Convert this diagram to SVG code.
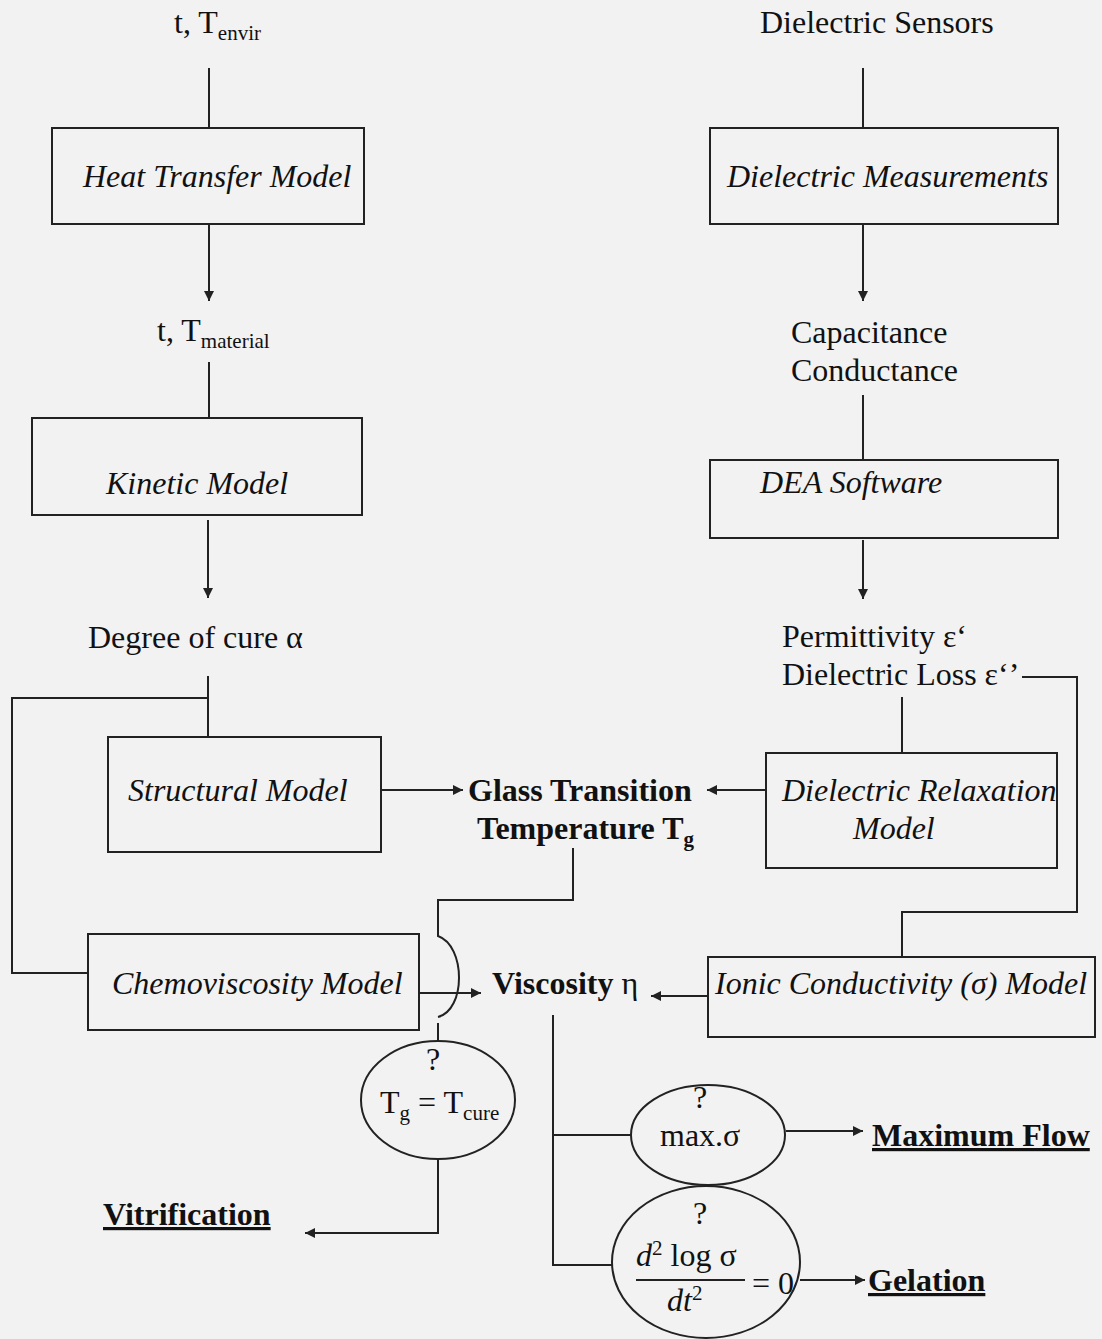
<svg xmlns="http://www.w3.org/2000/svg" width="1102" height="1339" viewBox="0 0 1102 1339">
<defs>
<marker id="ah" viewBox="0 0 10 10" refX="10" refY="5" markerWidth="12" markerHeight="10" markerUnits="userSpaceOnUse" orient="auto">
<path d="M0,0 L10,5 L0,10 Z" fill="#222"/>
</marker>
<style>
.bg{fill:#f2f2f2}
.box{fill:none;stroke:#222;stroke-width:2}
.ln{fill:none;stroke:#222;stroke-width:2}
.ar{fill:none;stroke:#222;stroke-width:2;marker-end:url(#ah)}
.t{font-family:"Liberation Serif",serif;font-size:32px;fill:#111}
.i{font-style:italic}
.b{font-weight:bold}
.u{text-decoration:underline}
.sub{font-size:21px}
</style>
</defs>
<rect class="bg" x="0" y="0" width="1102" height="1339"/>

<g id="connectors">
<line class="ln" x1="209" y1="68" x2="209" y2="128"/>
<line class="ar" x1="209" y1="224" x2="209" y2="301"/>
<line class="ln" x1="209" y1="362" x2="209" y2="418"/>
<line class="ar" x1="208" y1="520" x2="208" y2="598"/>
<line class="ln" x1="208" y1="676" x2="208" y2="737"/>
<polyline class="ln" points="208,698 12,698 12,973 88,973"/>
<line class="ar" x1="381" y1="790" x2="463" y2="790"/>
<path class="ln" d="M573,848 V900 H438 V936 C466,946 466,1010 438,1017"/>
<line class="ln" x1="438" y1="1023" x2="438" y2="1041"/>
<line class="ar" x1="419" y1="993" x2="481" y2="993"/>
<polyline class="ar" points="438,1160 438,1233 305,1233"/>

<line class="ln" x1="863" y1="68" x2="863" y2="128"/>
<line class="ar" x1="863" y1="224" x2="863" y2="301"/>
<line class="ln" x1="863" y1="395" x2="863" y2="460"/>
<line class="ar" x1="863" y1="540" x2="863" y2="599"/>
<line class="ln" x1="902" y1="697" x2="902" y2="753"/>
<polyline class="ln" points="1022,677 1077,677 1077,912 902,912 902,957"/>
<line class="ar" x1="766" y1="790" x2="707" y2="790"/>
<line class="ar" x1="708" y1="996" x2="651" y2="996"/>
<polyline class="ln" points="553,1015 553,1265 612,1265"/>
<line class="ln" x1="553" y1="1135" x2="631" y2="1135"/>
<line class="ar" x1="786" y1="1131" x2="863" y2="1131"/>
<line class="ar" x1="800" y1="1280" x2="865" y2="1280"/>
</g>

<g id="n-tenvir"><text class="t" x="174" y="33">t, T<tspan class="sub" dy="7">envir</tspan></text></g>
<g id="n-heat"><rect class="box" x="52" y="128" width="312" height="96"/><text class="t i" x="83" y="187">Heat Transfer Model</text></g>
<g id="n-tmat"><text class="t" x="157" y="341">t, T<tspan class="sub" dy="7">material</tspan></text></g>
<g id="n-kinetic"><rect class="box" x="32" y="418" width="330" height="97"/><text class="t i" x="106" y="494">Kinetic Model</text></g>
<g id="n-doc"><text class="t" x="88" y="648">Degree of cure α</text></g>
<g id="n-struct"><rect class="box" x="108" y="737" width="273" height="115"/><text class="t i" x="128" y="801">Structural Model</text></g>
<g id="n-glass"><text class="t b" x="468" y="801">Glass Transition</text><text class="t b" x="477" y="839">Temperature T<tspan class="sub" dy="7">g</tspan></text></g>
<g id="n-chemo"><rect class="box" x="88" y="934" width="331" height="96"/><text class="t i" x="112" y="994">Chemoviscosity Model</text></g>
<g id="n-visc"><text class="t" x="492" y="994"><tspan class="b">Viscosity</tspan> η</text></g>
<g id="n-tgcure"><ellipse class="box" cx="438" cy="1100" rx="77" ry="59"/><text class="t" x="433" y="1070" text-anchor="middle">?</text><text class="t" x="380" y="1113">T<tspan class="sub" dy="7">g</tspan><tspan dy="-7"> = T</tspan><tspan class="sub" dy="7">cure</tspan></text></g>
<g id="n-vitri"><text class="t b u" x="103" y="1225">Vitrification</text></g>

<g id="n-sensors"><text class="t" x="760" y="33">Dielectric Sensors</text></g>
<g id="n-meas"><rect class="box" x="710" y="128" width="348" height="96"/><text class="t i" x="727" y="187">Dielectric Measurements</text></g>
<g id="n-cap"><text class="t" x="791" y="343">Capacitance</text><text class="t" x="791" y="381">Conductance</text></g>
<g id="n-dea"><rect class="box" x="710" y="460" width="348" height="78"/><text class="t i" x="760" y="493">DEA Software</text></g>
<g id="n-perm"><text class="t" x="782" y="647">Permittivity ε‘</text><text class="t" x="782" y="685">Dielectric Loss ε‘’</text></g>
<g id="n-relax"><rect class="box" x="766" y="753" width="291" height="115"/><text class="t i" x="782" y="801">Dielectric Relaxation</text><text class="t i" x="853" y="839">Model</text></g>
<g id="n-ionic"><rect class="box" x="708" y="957" width="387" height="80"/><text class="t i" x="715" y="994">Ionic Conductivity (σ) Model</text></g>
<g id="n-maxs"><ellipse class="box" cx="708" cy="1135" rx="77" ry="50"/><text class="t" x="700" y="1108" text-anchor="middle">?</text><text class="t" x="660" y="1146">max.σ</text></g>
<g id="n-maxflow"><text class="t b u" x="872" y="1146">Maximum Flow</text></g>
<g id="n-gel"><ellipse class="box" cx="706" cy="1262" rx="94" ry="76"/><text class="t" x="700" y="1224" text-anchor="middle">?</text>
<text class="t" x="636" y="1266"><tspan class="i">d</tspan><tspan class="sub" dy="-11">2</tspan><tspan dy="11"> log σ</tspan></text>
<line class="ln" x1="636" y1="1280" x2="745" y2="1280"/>
<text class="t" x="667" y="1311"><tspan class="i">dt</tspan><tspan class="sub" dy="-11">2</tspan></text>
<text class="t" x="752" y="1294">= 0</text></g>
<g id="n-gelation"><text class="t b u" x="868" y="1291">Gelation</text></g>
</svg>
